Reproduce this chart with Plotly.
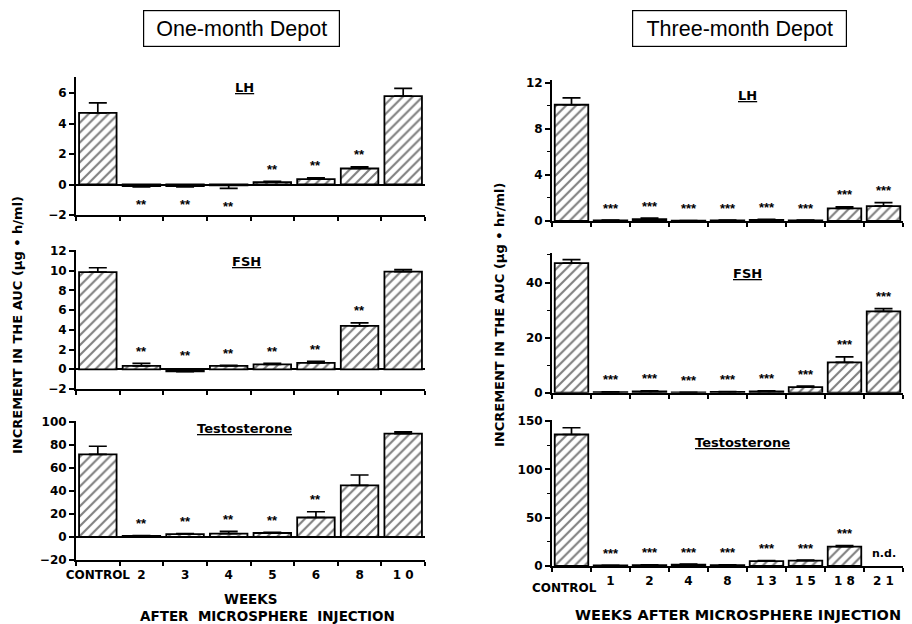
import plotly.graph_objects as go

# ---------------- data ----------------
left_weeks = ["CONTROL", "2", "3", "4", "5", "6", "8", "1 0"]
left_lh = [4.7, -0.1, -0.1, -0.05, 0.15, 0.35, 1.05, 5.8]
left_lh_err = [0.65, 0.05, 0.05, 0.2, 0.05, 0.08, 0.1, 0.5]
left_lh_stars = ["", "**", "**", "**", "**", "**", "**", ""]

left_fsh = [9.85, 0.35, -0.2, 0.35, 0.5, 0.65, 4.4, 9.9]
left_fsh_err = [0.45, 0.25, 0.05, 0.05, 0.1, 0.15, 0.3, 0.2]
left_fsh_stars = ["", "**", "**", "**", "**", "**", "**", ""]

left_t = [72, 1, 2.5, 3, 3.5, 17, 45, 90]
left_t_err = [7, 0.3, 0.5, 2, 0.5, 5, 9, 1.5]
left_t_stars = ["", "**", "**", "**", "**", "**", "", ""]

right_weeks = ["CONTROL", "1", "2", "4", "8", "1 3", "1 5", "1 8", "2 1"]
right_lh = [10.1, 0.05, 0.15, 0.02, 0.05, 0.1, 0.05, 1.1, 1.3]
right_lh_err = [0.6, 0.02, 0.1, 0.02, 0.02, 0.05, 0.02, 0.12, 0.3]
right_lh_stars = ["", "***", "***", "***", "***", "***", "***", "***", "***"]

right_fsh = [47, 0.2, 0.5, 0.1, 0.3, 0.5, 2.0, 11, 29.5]
right_fsh_err = [1.3, 0.1, 0.2, 0.05, 0.1, 0.2, 0.4, 2, 1.0]
right_fsh_stars = ["", "***", "***", "***", "***", "***", "***", "***", "***"]

right_t = [136, 0.5, 0.8, 1.5, 1.0, 5, 5.5, 20, None]
right_t_err = [7, 0.2, 0.3, 0.5, 0.3, 0.5, 0.5, 1.2, 0]
right_t_stars = ["", "***", "***", "***", "***", "***", "***", "***", "n.d."]

FONT = "DejaVu Sans"
TFONT = "Liberation Sans"
W, H = 912, 624


def py(p):
    return 1 - p / H


def px(p):
    return p / W


# last field: whether stars of negative bars go below the bar
panels = [
    ("x", "y", left_weeks, left_lh, left_lh_err, left_lh_stars, "LH",
     [-2, 7.05], (215, 77), 2, None, (76, 425), (245, 88), False, True),
    ("x2", "y2", left_weeks, left_fsh, left_fsh_err, left_fsh_stars, "FSH",
     [-2, 12.1], (389, 250), 2, None, (76, 425), (247, 261), False, False),
    ("x3", "y3", left_weeks, left_t, left_t_err, left_t_stars, "Testosterone",
     [-20, 101], (560, 421), 20, None, (76, 425), (245, 428), True, False),
    ("x4", "y4", right_weeks, right_lh, right_lh_err, right_lh_stars, "LH",
     [0, 12.25], (221, 80), 4, 2, (552, 903), (747, 95), False, False),
    ("x5", "y5", right_weeks, right_fsh, right_fsh_err, right_fsh_stars, "FSH",
     [0, 50.6], (392.7, 253.3), 20, 10, (552, 903), (747, 273), False, False),
    ("x6", "y6", right_weeks, right_t, right_t_err, right_t_stars, "Testosterone",
     [0, 151], (566, 420), 50, 25, (552, 903), (742, 442), True, False),
]

fig = go.Figure()
annotations = []
layout = {}

for i, (xa, ya, cats, vals, errs, stars, title, yr, (yb, yt), dt, mdt,
        (xl, xr), (tx, ty), showlab, neg_below) in enumerate(panels):
    up = [e if (v is not None and v >= 0) else 0 for v, e in zip(vals, errs)]
    dn = [e if (v is not None and v < 0) else 0 for v, e in zip(vals, errs)]
    fig.add_trace(go.Bar(
        x=cats, y=vals, xaxis=xa, yaxis=ya, width=0.86,
        marker=dict(color="white", line=dict(color="black", width=1.8),
                    pattern=dict(shape="/", fgcolor="black", bgcolor="white",
                                 size=7, solidity=0.3)),
        error_y=dict(type="data", symmetric=False, array=up, arrayminus=dn,
                     color="black", thickness=1.7, width=9),
        showlegend=False, hoverinfo="skip"))
    n = "" if i == 0 else str(i + 1)
    right_side = xl > 400
    ticktext = list(cats)
    if right_side:
        ticktext[0] = ""  # CONTROL label of the right panel is set lower
    layout["xaxis" + n] = dict(
        domain=[px(xl), px(xr)], anchor="y" + n, type="category",
        categoryorder="array", categoryarray=cats,
        tickmode="array", tickvals=cats, ticktext=ticktext,
        showline=True, linecolor="black", linewidth=2, automargin=False,
        ticks="outside", tickson="boundaries", ticklen=4, tickwidth=1.5,
        tickcolor="black", showgrid=False, showticklabels=showlab,
        tickangle=0, ticklabelstandoff=3,
        tickfont=dict(family=FONT, size=12, color="black", weight="bold"),
        range=[-0.5, len(cats) - 0.5], fixedrange=True)
    yax = dict(
        domain=[py(yb), py(yt)], anchor="x" + n, range=yr, dtick=dt, tick0=0,
        showline=True, linecolor="black", linewidth=2, showgrid=False,
        zeroline=yr[0] < 0, zerolinecolor="black", zerolinewidth=2,
        automargin=False,
        ticks="outside", ticklen=5, tickwidth=1.5, tickcolor="black",
        tickfont=dict(family=FONT, size=12, color="black", weight="bold"),
        fixedrange=True)
    if mdt:
        yax["minor"] = dict(dtick=mdt, tick0=0, ticks="outside", ticklen=3,
                            tickcolor="black", tickwidth=1)
    layout["yaxis" + n] = yax

    annotations.append(dict(
        xref="paper", yref="paper", x=px(tx), y=py(ty), showarrow=False,
        text="<b><u>%s</u></b>" % title, xanchor="center", yanchor="middle",
        font=dict(family=FONT, size=13, color="black")))

    if right_side and showlab:
        annotations.append(dict(
            xref="paper", yref="paper", x=px(564), y=py(588), showarrow=False,
            text="<b>%s</b>" % cats[0], xanchor="center", yanchor="middle",
            font=dict(family=FONT, size=12, color="black")))

    for j, (v, e, s) in enumerate(zip(vals, errs, stars)):
        if not s:
            continue
        if s == "n.d.":
            annotations.append(dict(
                xref=xa, yref=ya, x=j, y=0, showarrow=False, text="<b>n.d.</b>",
                xanchor="center", yanchor="middle", yshift=13,
                font=dict(family=FONT, size=11, color="black")))
            continue
        if v >= 0:
            yy, sh = v + e, 12
        elif neg_below:
            yy, sh = v - e, -18
        else:
            yy, sh = 0, 14
        annotations.append(dict(
            xref=xa, yref=ya, x=j, y=yy, showarrow=False, text="<b>%s</b>" % s,
            xanchor="center", yanchor="middle", yshift=sh,
            font=dict(family=TFONT, size=13, color="black")))

# titles in boxes
annotations.append(dict(
    xref="paper", yref="paper", x=px(241.5), y=py(28.5), showarrow=False,
    text="One-month Depot", xanchor="center", yanchor="middle",
    width=193, height=33, borderpad=1, bordercolor="black", borderwidth=1.2,
    font=dict(family=TFONT, size=21.5, color="black")))
annotations.append(dict(
    xref="paper", yref="paper", x=px(739.5), y=py(28.5), showarrow=False,
    text="Three-month Depot", xanchor="center", yanchor="middle",
    width=211, height=33, borderpad=1, bordercolor="black", borderwidth=1.2,
    font=dict(family=TFONT, size=21.5, color="black")))

# y titles
annotations.append(dict(
    xref="paper", yref="paper", x=px(17), y=py(325), showarrow=False,
    text="<b>INCREMENT IN THE AUC (µg • h/ml)</b>", textangle=-90,
    xanchor="center", yanchor="middle",
    font=dict(family=FONT, size=13, color="black")))
annotations.append(dict(
    xref="paper", yref="paper", x=px(499), y=py(315), showarrow=False,
    text="<b>INCREMENT IN THE AUC (µg • hr/ml)</b>", textangle=-90,
    xanchor="center", yanchor="middle",
    font=dict(family=FONT, size=13, color="black")))

# x titles
annotations.append(dict(
    xref="paper", yref="paper", x=px(251), y=py(599), showarrow=False,
    text="<b>WEEKS</b>", xanchor="center", yanchor="middle",
    font=dict(family=FONT, size=13.5, color="black")))
annotations.append(dict(
    xref="paper", yref="paper", x=px(267), y=py(616), showarrow=False,
    text="<b>AFTER\u00a0\u00a0MICROSPHERE\u00a0\u00a0INJECTION</b>",
    xanchor="center", yanchor="middle",
    font=dict(family=FONT, size=13.5, color="black")))
annotations.append(dict(
    xref="paper", yref="paper", x=px(573), y=py(615), showarrow=False,
    text="<b>WEEKS AFTER MICROSPHERE INJECTION</b>",
    xanchor="left", yanchor="middle",
    font=dict(family=FONT, size=14.5, color="black")))

fig.update_layout(
    width=W, height=H, margin=dict(l=0, r=0, t=0, b=0, autoexpand=False),
    paper_bgcolor="white", plot_bgcolor="white",
    bargap=0.14, annotations=annotations, showlegend=False, **layout)

fig.write_html("out.html")
